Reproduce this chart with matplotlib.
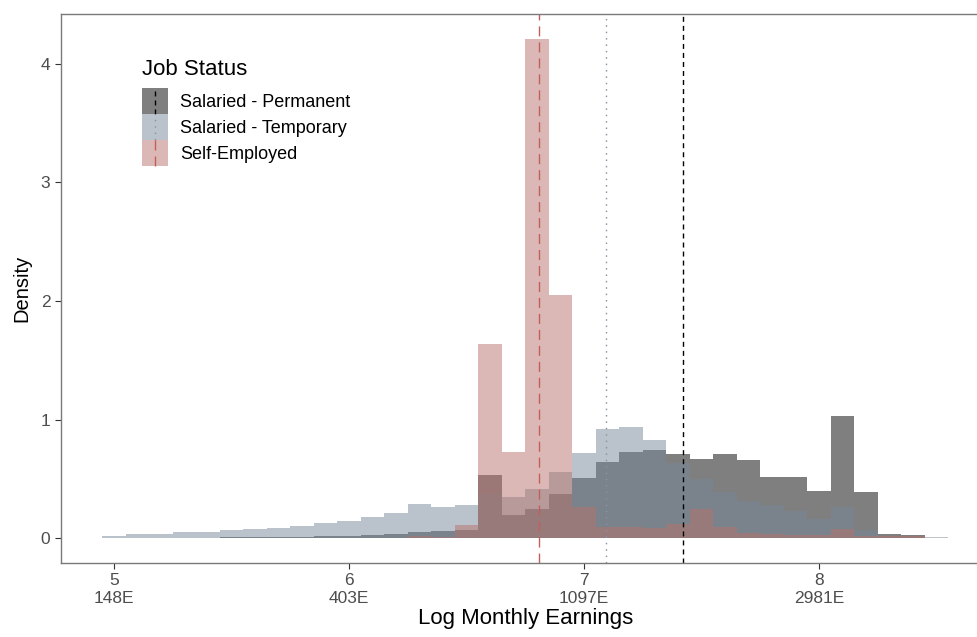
import numpy as np
import matplotlib
matplotlib.use("Agg")
import matplotlib.pyplot as plt
from matplotlib.patches import Patch, Rectangle
from matplotlib.lines import Line2D
from matplotlib.legend_handler import HandlerBase

plt.rcParams['font.family'] = ['Liberation Sans', 'DejaVu Sans']
plt.rcParams['lines.scale_dashes'] = False

# histogram bins (log monthly earnings), width 0.1
bin_centers = [5.0, 5.1, 5.2, 5.3, 5.4, 5.5, 5.6, 5.7, 5.8, 5.9,
               6.0, 6.1, 6.2, 6.3, 6.4, 6.5, 6.6, 6.7, 6.8, 6.9,
               7.0, 7.1, 7.2, 7.3, 7.4, 7.5, 7.6, 7.7, 7.8, 7.9,
               8.0, 8.1, 8.2, 8.3, 8.4, 8.5]
bin_width = 0.1

# densities
permanent = [0.002, 0.003, 0.003, 0.004, 0.005, 0.006, 0.007, 0.008, 0.010, 0.015,
             0.020, 0.026, 0.035, 0.052, 0.058, 0.070, 0.530, 0.196, 0.244, 0.370,
             0.507, 0.639, 0.723, 0.740, 0.706, 0.664, 0.711, 0.655, 0.515, 0.515,
             0.400, 1.028, 0.392, 0.032, 0.024, 0.004]
temporary = [0.015, 0.035, 0.038, 0.049, 0.055, 0.069, 0.077, 0.083, 0.100, 0.125,
             0.141, 0.175, 0.214, 0.290, 0.264, 0.275, 0.370, 0.345, 0.414, 0.555,
             0.717, 0.924, 0.941, 0.826, 0.636, 0.498, 0.389, 0.317, 0.283, 0.227,
             0.162, 0.263, 0.070, 0.010, 0.005, 0.006]
self_employed = [0.0, 0.0, 0.0, 0.0, 0.0, 0.0, 0.0, 0.0, 0.0, 0.0,
                 0.0, 0.003, 0.005, 0.015, 0.010, 0.113, 1.640, 0.730, 4.210, 2.050,
                 0.266, 0.095, 0.095, 0.084, 0.115, 0.244, 0.092, 0.045, 0.034, 0.028,
                 0.025, 0.073, 0.020, 0.015, 0.020, 0.0]

# group means (log scale)
mean_permanent = 7.42
mean_temporary = 7.092
mean_self = 6.807

groups = ['Salaried - Permanent', 'Salaried - Temporary', 'Self-Employed']
fill_colors = ['#000000', '#778899', '#b8736c']
line_colors = ['#000000', '#8793a0', '#c0605a']
line_alphas = [1.0, 1.0, 1.0]
line_styles = [(0, (3.6, 2.9)), (0, (1.1, 3.5)), (0, (7.2, 4.3))]

x_ticks = [5, 6, 7, 8]
x_tick_labels = ['5\n148E', '6\n403E', '7\n1097E', '8\n2981E']
y_ticks = [0, 1, 2, 3, 4]

fig = plt.figure(figsize=(9.77, 6.37), dpi=100)
ax = fig.add_axes([60.7 / 977, 74 / 637, 930.3 / 977, 549 / 637])

for vals, col in zip([permanent, temporary, self_employed], fill_colors):
    ax.bar(bin_centers, vals, width=bin_width, color=col, alpha=0.5, linewidth=0)

for m, col, a, ls in zip([mean_permanent, mean_temporary, mean_self],
                         line_colors, line_alphas, line_styles):
    ax.axvline(m, color=col, alpha=a, linestyle=ls, linewidth=1.0)

ax.set_xlim(4.773, 8.732)
ax.set_ylim(-0.21, 4.42)
ax.set_xticks(x_ticks)
ax.set_xticklabels(x_tick_labels)
ax.set_yticks(y_ticks)
ax.tick_params(axis='both', length=4, width=0.8, color='#333333',
               labelcolor='#4d4d4d', labelsize=12.5, pad=3.4)
for sp in ax.spines.values():
    sp.set_color('#7a7a7a')
    sp.set_linewidth(1.0)

ax.set_xlabel('Log Monthly Earnings', fontsize=16, labelpad=2)
ax.set_ylabel('Density', fontsize=14.5, labelpad=7)


class KeyHandler(HandlerBase):
    def __init__(self, color, alpha, ls):
        super().__init__()
        self.color = color
        self.alpha = alpha
        self.ls = ls

    def create_artists(self, legend, orig_handle, xdescent, ydescent,
                       width, height, fontsize, trans):
        r = Rectangle((-xdescent, -ydescent), width, height,
                      facecolor=orig_handle.get_facecolor(), edgecolor='none',
                      transform=trans)
        xm = -xdescent + width / 2
        ln = Line2D([xm, xm], [-ydescent, -ydescent + height], color=self.color,
                    alpha=self.alpha, linestyle=self.ls, linewidth=1.0,
                    transform=trans)
        return [r, ln]


handles = []
hmap = {}
for g, fc, lc, la, ls in zip(groups, fill_colors, line_colors, line_alphas, line_styles):
    h = Patch(facecolor=fc, alpha=0.5, label=g)
    handles.append(h)
    hmap[h] = KeyHandler(lc, la, ls)

leg = ax.legend(handles=handles, handler_map=hmap, title='Job Status',
                loc='upper left', bbox_to_anchor=(0.0874, 0.918),
                frameon=False, fontsize=13, title_fontsize=16,
                handlelength=1.43, handleheight=1.84, labelspacing=0,
                handletextpad=0.67, borderpad=0, borderaxespad=0,
                alignment='left')
leg._legend_box.sep = 6.0

fig.savefig('out.png', dpi=100)
